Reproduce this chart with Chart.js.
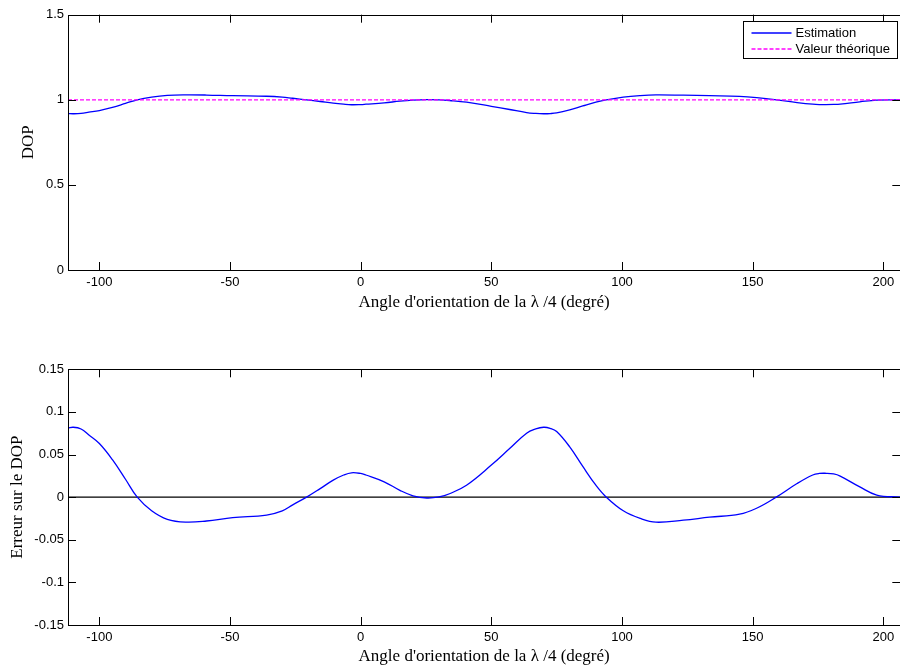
<!DOCTYPE html>
<html>
<head>
<meta charset="utf-8">
<script src="https://cdn.jsdelivr.net/npm/chart.js@4.4.0/dist/chart.umd.min.js"></script>
<style>
html, body { margin: 0; padding: 0; background: #fff; overflow: hidden; }
#wrap { position: relative; width: 900px; height: 670px; overflow: hidden; }
canvas { position: absolute; left: 0; }
</style>
</head>
<body>
<div id="wrap">
  <canvas id="dop" width="904" height="335" style="top:0"></canvas>
  <canvas id="err" width="904" height="335" style="top:335px"></canvas>
</div>
<script>
// angle de la lame quart d'onde (degrés)
const angles = [-112, -110, -107, -104, -100, -95, -90, -85.5, -80, -74, -67, -59, -49, -36, -30, -26, -20.7,
  -15.5, -10.5, -6.5, -3.5, 0, 2, 9, 15, 20, 25.3, 30, 34, 40.5, 50, 57, 63.5, 67, 70, 72.5, 75, 80, 85, 90, 94,
  100.5, 107, 113, 123.5, 133.5, 145, 151.5, 159, 167, 173, 175.5, 178, 181, 183.5, 191, 197.5, 206.5];

const dopEstimation = [0.919, 0.918, 0.920, 0.927, 0.937, 0.956, 0.979, 1.0, 1.016, 1.026, 1.029, 1.028, 1.024, 1.021, 1.016, 1.009, 1.0,
  0.990, 0.980, 0.974, 0.971, 0.972, 0.974, 0.982, 0.992, 0.998, 1.001, 1.0, 0.996, 0.986, 0.962, 0.943, 0.925, 0.920, 0.918, 0.919, 0.923,
  0.941, 0.964, 0.986, 1.0,
  1.016, 1.025, 1.029, 1.027, 1.024, 1.020, 1.013, 1.0, 0.984, 0.974, 0.972, 0.972, 0.973, 0.975, 0.988, 0.998, 1.0];

const dopErreur = [0.081, 0.082, 0.080, 0.073, 0.063, 0.044, 0.021, 0, -0.016, -0.026, -0.0293, -0.028, -0.024, -0.021, -0.016, -0.009, 0,
  0.010, 0.020, 0.026, 0.0286, 0.0278, 0.026, 0.018, 0.008, 0.0016, -0.001, 0.0003, 0.004, 0.014, 0.0376, 0.057, 0.075, 0.0800, 0.082, 0.0808, 0.077,
  0.059, 0.036, 0.014, 0,
  -0.016, -0.025, -0.0294, -0.027, -0.0235, -0.020, -0.013, 0, 0.016, 0.026, 0.0278, 0.028, 0.0272, 0.0247, 0.012, 0.0024, 0];

const bornesAngle = [-112, 206.5];
const valeurTheorique = [1, 1];
const zeroLigne = [0, 0];

const xTicks = [-100, -50, 0, 50, 100, 150, 200];
const dopTicks = [0, 0.5, 1, 1.5];
const errTicks = [-0.15, -0.1, -0.05, 0, 0.05, 0.1, 0.15];

const xTitle = "Angle d'orientation de la \u03bb /4 (degr\u00e9)";

const tickFont = { family: "'Liberation Sans', Arial, sans-serif", size: 13 };
const titleFont = { family: "'Liberation Serif', 'Times New Roman', serif", size: 17 };

const pts = (xs, ys) => xs.map((x, i) => ({ x: x, y: ys[i] }));

// box around the axes + ticks pointing inwards (matlab style)
const boxTicks = {
  id: 'boxTicks',
  afterDatasetsDraw(chart) {
    const { ctx, chartArea: a, scales } = chart;
    ctx.save();
    ctx.strokeStyle = '#000';
    ctx.lineWidth = 1;
    ctx.beginPath();
    scales.x.ticks.forEach(t => {
      const px = Math.round(scales.x.getPixelForValue(t.value)) + 0.5;
      ctx.moveTo(px, a.bottom); ctx.lineTo(px, a.bottom - 8);
      ctx.moveTo(px, a.top); ctx.lineTo(px, a.top + 8);
    });
    scales.y.ticks.forEach(t => {
      const py = Math.round(scales.y.getPixelForValue(t.value)) + 0.5;
      ctx.moveTo(a.left, py); ctx.lineTo(a.left + 8, py);
      ctx.moveTo(a.right, py); ctx.lineTo(a.right - 8, py);
    });
    ctx.stroke();
    ctx.strokeRect(Math.round(a.left) + 0.5, Math.round(a.top) + 0.5,
      Math.round(a.right - a.left), Math.round(a.bottom - a.top));
    ctx.restore();
  }
};

// legend box in the upper right corner
const legendeBoite = {
  id: 'legendeBoite',
  afterDraw(chart) {
    const { ctx, chartArea: a } = chart;
    const w = 154, h = 37;
    const left = Math.round(a.right - 3 - w) + 0.5;
    const top = Math.round(a.top + 6.5) + 0.5;
    ctx.save();
    ctx.fillStyle = '#fff';
    ctx.fillRect(left, top, w, h);
    ctx.strokeStyle = '#000';
    ctx.lineWidth = 1;
    ctx.strokeRect(left, top, w, h);
    ctx.font = "13px 'Liberation Sans', Arial, sans-serif";
    ctx.textBaseline = 'middle';
    chart.data.datasets.forEach((ds, i) => {
      const y = Math.round(top + 11 + i * 16);
      ctx.strokeStyle = ds.borderColor;
      ctx.lineWidth = 1.5;
      ctx.setLineDash(ds.borderDash || []);
      ctx.beginPath();
      ctx.moveTo(left + 8, y);
      ctx.lineTo(left + 48, y);
      ctx.stroke();
      ctx.setLineDash([]);
      ctx.fillStyle = '#000';
      ctx.fillText(ds.label, left + 52, y);
    });
    ctx.restore();
  }
};

function makeScales(yMin, yMax, yTicks, yTitle, yTitlePad, xHeight, xTitlePad) {
  return {
    x: {
      type: 'linear',
      min: bornesAngle[0],
      max: bornesAngle[1],
      afterBuildTicks: s => { s.ticks = xTicks.map(v => ({ value: v })); },
      afterFit: s => { s.height = xHeight; },
      grid: { display: false, drawTicks: false },
      border: { display: false },
      ticks: { font: tickFont, color: '#000', padding: 5, autoSkip: false, maxRotation: 0,
        callback: v => String(v) },
      title: { display: true, text: xTitle, font: titleFont, color: '#000',
        padding: { top: 0, bottom: xTitlePad } }
    },
    y: {
      min: yMin,
      max: yMax,
      afterBuildTicks: s => { s.ticks = yTicks.map(v => ({ value: v })); },
      afterFit: s => { s.width = 68; },
      grid: { display: false, drawTicks: false },
      border: { display: false },
      ticks: { font: tickFont, color: '#000', padding: 4, autoSkip: false,
        callback: v => String(v) },
      title: { display: true, text: yTitle, font: titleFont, color: '#000',
        padding: { top: yTitlePad, bottom: 0 } }
    }
  };
}

new Chart(document.getElementById('dop').getContext('2d'), {
  type: 'line',
  data: {
    datasets: [{
      label: 'Estimation',
      data: pts(angles, dopEstimation),
      borderColor: '#0000ff',
      borderWidth: 1.3,
      tension: 0.4,
      pointRadius: 0,
      fill: false,
      order: 1
    }, {
      label: 'Valeur th\u00e9orique',
      data: pts(bornesAngle, valeurTheorique),
      borderColor: '#ff00ff',
      borderWidth: 1.2,
      borderDash: [4, 2],
      pointRadius: 0,
      fill: false,
      order: 0
    }]
  },
  options: {
    responsive: false,
    animation: false,
    layout: { padding: { top: 14.7, right: 3.7, left: 0, bottom: 0 } },
    plugins: { legend: { display: false }, tooltip: { enabled: false } },
    scales: makeScales(0, 1.5, dopTicks, 'DOP', 18, 65, 22)
  },
  plugins: [boxTicks, legendeBoite]
});

new Chart(document.getElementById('err').getContext('2d'), {
  type: 'line',
  data: {
    datasets: [{
      label: 'Erreur',
      data: pts(angles, dopErreur),
      borderColor: '#0000ff',
      borderWidth: 1.3,
      tension: 0.4,
      pointRadius: 0,
      fill: false
    }, {
      label: 'z\u00e9ro',
      data: pts(bornesAngle, zeroLigne),
      borderColor: '#000',
      borderWidth: 1.2,
      pointRadius: 0,
      fill: false
    }]
  },
  options: {
    responsive: false,
    animation: false,
    layout: { padding: { top: 34.3, right: 3.7, left: 0, bottom: 0 } },
    plugins: { legend: { display: false }, tooltip: { enabled: false } },
    scales: makeScales(-0.15, 0.15, errTicks, 'Erreur sur le DOP', 7, 45, 3)
  },
  plugins: [boxTicks]
});
</script>
</body>
</html>
